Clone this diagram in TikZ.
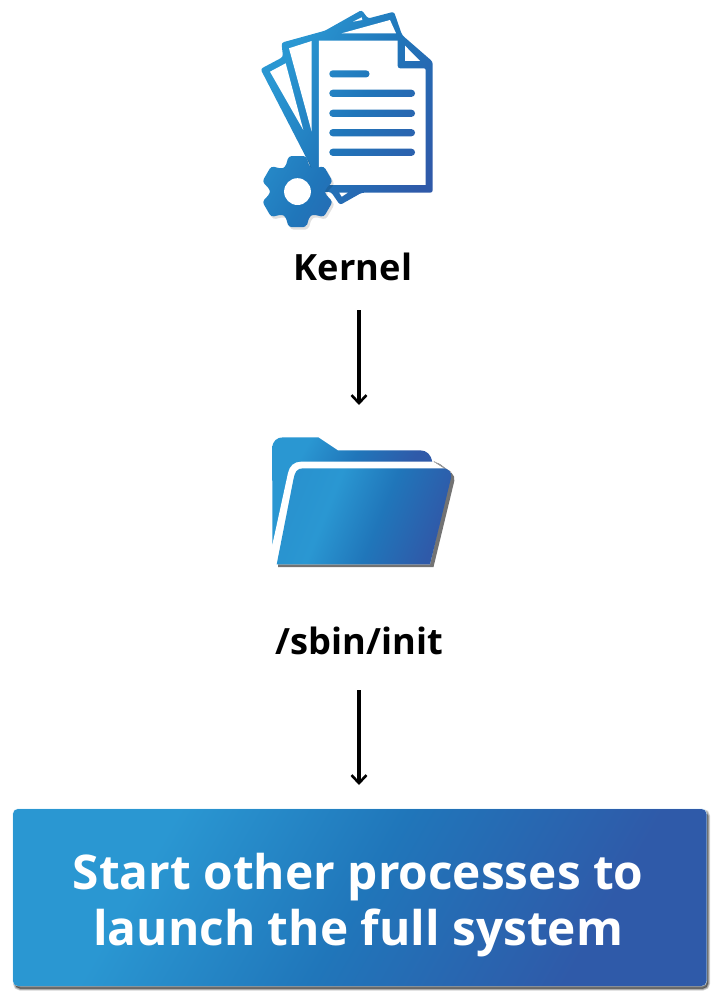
\documentclass[tikz,border=0pt]{standalone}
\usepackage{fontspec}
\setmainfont{Open Sans}[BoldFont={Open Sans Bold}]
\usetikzlibrary{arrows.meta}
\definecolor{gA}{HTML}{2A97D2}
\definecolor{gB}{HTML}{2076BA}
\definecolor{gC}{HTML}{2F5AA9}
\pgfdeclarehorizontalshading{brandH}{100bp}{color(0bp)=(gA);color(30bp)=(gA);color(50bp)=(gB);color(72bp)=(gC);color(100bp)=(gC)}
\pgfdeclarehorizontalshading{brandF}{100bp}{color(0bp)=(gA!85!gB);color(25bp)=(gA!85!gB);color(38bp)=(gA);color(55bp)=(gB);color(74bp)=(gC);color(100bp)=(gC)}
\tikzset{
  label text/.style={font=\bfseries\fontsize{36.2}{36}\selectfont,text=black,inner sep=0pt,anchor=base},
  banner text/.style={font=\bfseries\fontsize{47.8}{56}\selectfont,text=white,align=center,inner sep=0pt},
  flow/.style={draw=black,line width=3.2pt,-{Straight Barb[length=8pt,width=15pt,line width=2.6pt]}},
  paper/.style={fill=white,draw=none},
  brand/.style={shading=brandH,shading angle=-30},
  softshadow/.style={fill=black,draw=black,opacity=0.17}
}
\newcommand{\iconshade}{\path[brand] (250,0) rectangle (450,240);}
\newcommand{\gearpath}{(297.5,191.6) ++(76:36.6)
    foreach \a in {90,150,210,270,330,30}{
      -- ([shift={(297.5,191.6)}]\a-14:36.6)
      -- ([shift={(297.5,191.6)}]\a+14:36.6)
      -- ([shift={(297.5,191.6)}]\a+26:27.5)
      -- ([shift={(297.5,191.6)}]\a+34:27.5)
    } -- cycle}
\begin{document}
\begin{tikzpicture}[x=1pt,y=-1pt]
\useasboundingbox (0,0) rectangle (720,1000);
% ---- document icon
\begin{scope}
  \clip[rounded corners=2.5pt]
    (260.5,69) -- (283,57) -- (281.5,42.7) -- (325,30.7) -- (361.7,10) -- (368,18.5) -- (394,11.7) -- (402,35)
    -- (432.7,61.7) -- (432.7,192.7) -- (361.7,192.7) -- (340,205) -- (331,192) -- (310,192) -- (310,165) -- cycle;
  \iconshade
  \fill[paper] (270,71.7) -- (285.7,63.3) -- (303.3,130) -- cycle;
  \fill[paper] (289,48.3) -- (311.7,41) -- (311.7,131.7) -- cycle;
  \fill[paper] (353,21.7) -- (361.7,17.3) -- (362.3,20) -- cycle;
  \fill[paper] (341.7,33.3) -- (390,20) -- (396,33.3) -- cycle;
  \fill[paper] (339.3,192.7) -- (347.7,192.7) -- (341.7,196.7) -- cycle;
  \fill[paper] (318.8,40.7) -- (397.7,40.7) -- (397.7,64) [rounded corners=2pt] -- (397.7,68.3) -- (425.7,68.3) [sharp corners] -- (425.7,185) -- (318.8,185) -- cycle;
  \fill[paper] (405,45.7) -- (420,61) -- (405,61) -- cycle;
\end{scope}
% text lines of the document
\begin{scope}
  \clip[rounded corners=3.5pt]
    (329.3,70.3) rectangle (369.5,77.5)
    (329.3,89.7) rectangle (415,96.9)
    (329.3,109.7) rectangle (415,116.9)
    (329.3,129.1) rectangle (415,136.3)
    (329.3,148.7) rectangle (415,155.9);
  \iconshade
\end{scope}
% gear
\fill[black,opacity=0.12,rounded corners=3pt,shift={(2,2.5)}] \gearpath;
\begin{scope}
  \clip[rounded corners=3pt] \gearpath;
  \iconshade
\end{scope}
\fill[white] (297.5,191.6) circle (13.4);
% ---- folder icon
\begin{scope}
  \clip (272.3,545) -- (272.3,448.3) .. controls (272.3,441) and (277,437.3) .. (283.3,437.3)
    -- (318.3,437.3) -- (337.7,450.3) -- (420,450.3) .. controls (427,450.3) and (431,455) .. (432.3,461.7)
    -- (432.3,475) -- (290,475) -- cycle;
  \path[brand] (272,437) rectangle (436,480);
  \path[fill=gA] (272,478) rectangle (300,550);
\end{scope}
\fill[black!55,rounded corners=5pt] (300,470) -- (437,461.7) -- (455.5,476) [sharp corners] -- (433.5,567) -- (278,567) -- (278,560) -- cycle;
\draw[black!35,line width=0.5pt] (433.5,461) -- (451,472);
\fill[white] (272.3,545) -- (288,473) .. controls (289.5,466) and (294,461.7) .. (301,461.7)
  -- (433.3,461.7) -- (450.5,472.5) -- (430,564.3) -- (276.7,564.3) -- cycle;
\begin{scope}
  \clip (276.7,564.3) -- (293.5,479) .. controls (294.8,472) and (297,468.3) .. (303,468.3)
    -- (442,468.3) .. controls (449,468.3) and (452,472) .. (451,478) -- (430,564.3) -- cycle;
  \path[shading=brandF,shading angle=-22] (276,468) rectangle (452,565);
\end{scope}
% ---- labels
\node[label text] (kernel) at (353,280) {Kernel};
\node[label text] (init) at (359.5,654) {/sbin/init};
% ---- connectors
\coordinate (a1s) at (359,310);
\coordinate (a1e) at (359,405);
\coordinate (a2s) at (359,690);
\coordinate (a2e) at (359,785);
\draw[flow] (a1s) -- (a1e);
\draw[flow] (a2s) -- (a2e);
% ---- banner
\foreach \w in {4,2.5,1}{
  \draw[softshadow,line width=\w pt,rounded corners=5pt] (15,811) rectangle (708,988.5);
}
\fill[white!80!gA,rounded corners=5pt] (12.6,808.6) rectangle (707,986);
\path[brand,rounded corners=5pt] (13,809) rectangle (706.5,986);
\node[banner text] (banner) at (358.2,905) {Start other processes to\\launch the full system};
\end{tikzpicture}
\end{document}
